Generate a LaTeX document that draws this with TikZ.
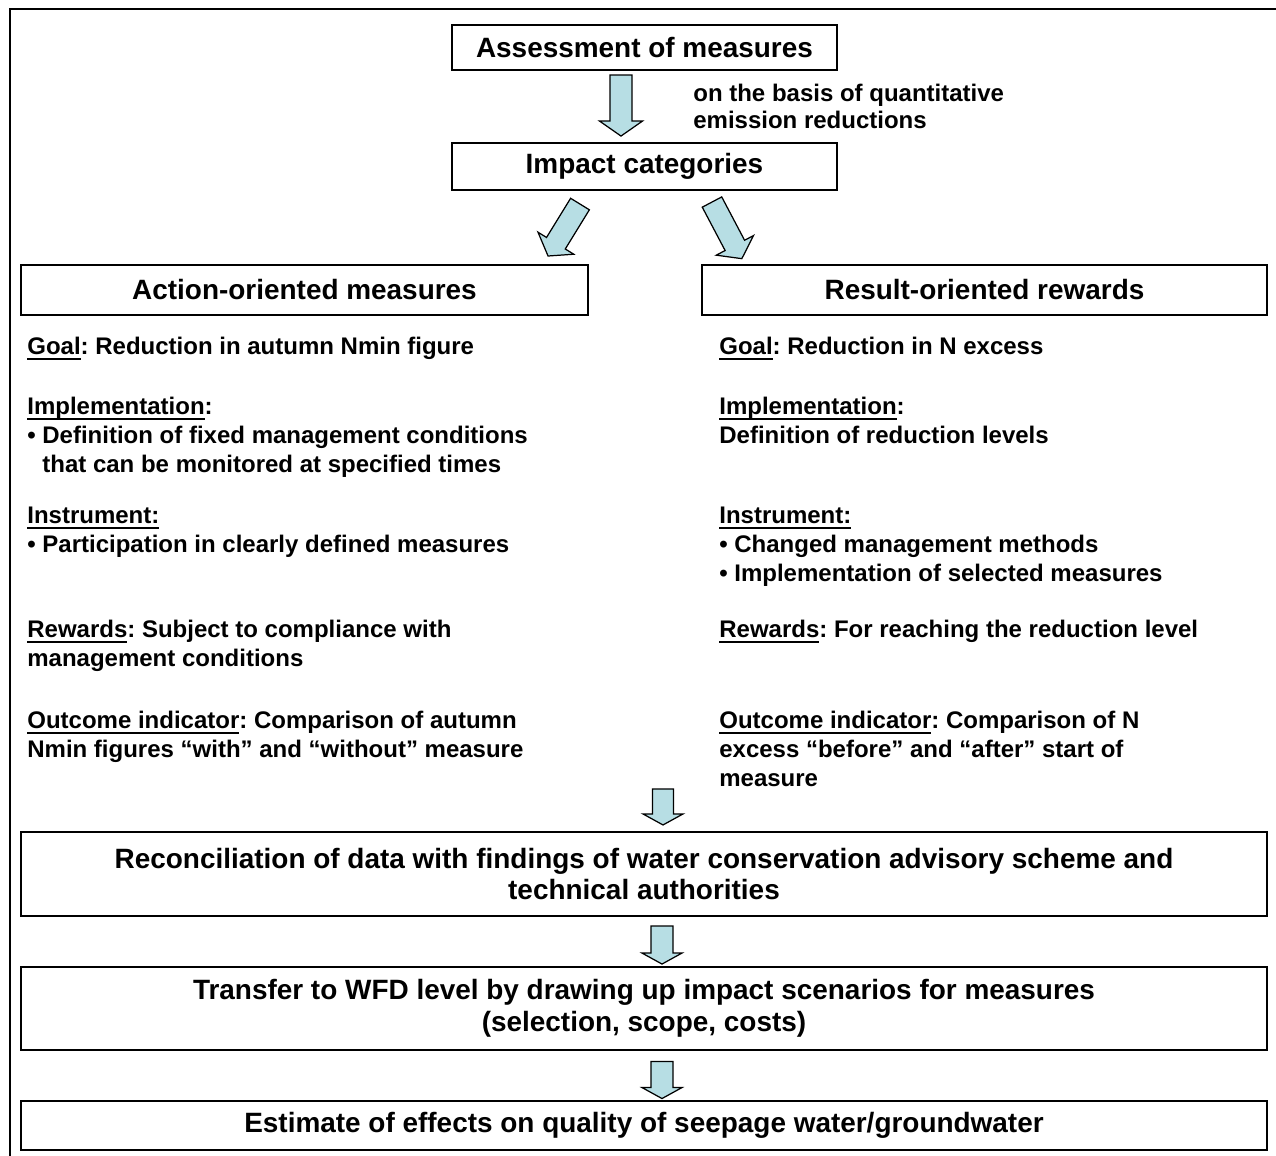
\documentclass[tikz,border=0pt]{standalone}
\usepackage{fontspec}
\setmainfont{Liberation Sans}
\usetikzlibrary{calc}
\definecolor{arrowblue}{RGB}{183,222,228}
\newcommand\bodyf{\fontsize{13.66}{16.5}\selectfont\bfseries\frenchspacing}
\newcommand\basisf{\fontsize{13.66}{15.4}\selectfont\bfseries\frenchspacing}
\newcommand\titlef{\fontsize{15.9}{18.2}\selectfont\bfseries\frenchspacing}
\newcommand\myul[1]{\setbox0\hbox{#1}\rlap{\rule[-2.8pt]{\wd0}{1.1pt}}\box0}
\tikzset{
  pics/barrow/.style n args={4}{code={
    \draw[barrowstyle] (-#2,0) -- (#2,0) -- (#2,#1-#4) -- (#3,#1-#4) -- (0,#1)
      -- (-#3,#1-#4) -- (-#2,#1-#4) -- cycle;}},
  barrowstyle/.style={draw=black, line width=0.7pt, fill=arrowblue, line join=miter},
  box/.style={draw, line width=1.2pt, inner sep=0pt, align=center, font=\titlef},
  body/.style={anchor=north west, inner sep=0pt, align=left, font=\bodyf},
}
\begin{document}
\begin{tikzpicture}[x=0.02cm,y=-0.02cm]
\useasboundingbox (0,0) rectangle (1276,1156);
\draw[line width=1.2pt] (10,1160) -- (10,9) -- (1280,9);

% boxes
\node[box, minimum width=7.7cm, minimum height=0.9cm] (assess) at (644.5,47.5) {Assessment of measures};
\node[box, minimum width=7.7cm, minimum height=0.94cm] (impact) at (644.5,166.5) {Impact categories};
\node[box, minimum width=11.34cm, minimum height=1.0cm] (action) at (304.5,290) {Action-oriented measures};
\node[box, minimum width=11.3cm, minimum height=1.0cm] (result) at (984.5,290) {Result-oriented rewards};
\node[box, minimum width=24.92cm, minimum height=1.68cm] (recon) at (644,874) {Reconciliation of data with findings of water conservation advisory scheme and\\technical authorities};
\node[box, minimum width=24.92cm, minimum height=1.66cm] (transfer) at (644,1008.5) {Transfer to WFD level by drawing up impact scenarios for measures\\(selection, scope, costs)};
\node[box, minimum width=24.92cm, minimum height=0.98cm] (estimate) at (644,1125.5) {Estimate of effects on quality of seepage water/groundwater};

% side label
\node[anchor=north west, inner sep=0pt, align=left, font=\basisf] (basis) at (693,84) {on the basis of quantitative\\emission reductions};

% left column
\node[body] (lgoal) at (27,337) {\myul{Goal}: Reduction in autumn Nmin figure};
\node[body] (limpl) at (27,397) {\myul{Implementation}:\\• Definition of fixed management conditions\\\hphantom{•\ }that can be monitored at specified times};
\node[body] (linst) at (27,507) {\myul{Instrument:}\\• Participation in clearly defined measures};
\node[body] (lrew) at (27,620) {\myul{Rewards}: Subject to compliance with\\management conditions};
\node[body] (lout) at (27,711) {\myul{Outcome indicator}: Comparison of autumn\\Nmin figures “with” and “without” measure};

% right column
\node[body] (rgoal) at (719,337) {\myul{Goal}: Reduction in N excess};
\node[body] (rimpl) at (719,397) {\myul{Implementation}:\\Definition of reduction levels};
\node[body] (rinst) at (719,507) {\myul{Instrument:}\\• Changed management methods\\• Implementation of selected measures};
\node[body] (rrew) at (719,620) {\myul{Rewards}: For reaching the reduction level};
\node[body] (rout) at (719,711) {\myul{Outcome indicator}: Comparison of N\\excess “before” and “after” start of\\measure};

% block arrows
\pic at ($(assess.south)+(-23.5,4)$) {barrow={61}{11}{21.5}{15}};
\pic[rotate=-31.6] at ($(impact.south)+(-64.5,13)$) {barrow={61}{11}{21}{15}};
\pic[rotate=27.8] at ($(impact.south)+(67.5,11)$) {barrow={64}{11}{21}{15}};
\pic at ($(recon.north)+(19,-42)$) {barrow={36}{10.5}{20}{11}};
\pic at ($(recon.south)+(18,9)$) {barrow={38}{11}{20}{11}};
\pic at ($(transfer.south)+(18,10.5)$) {barrow={37}{11}{20}{11}};
\end{tikzpicture}
\end{document}
